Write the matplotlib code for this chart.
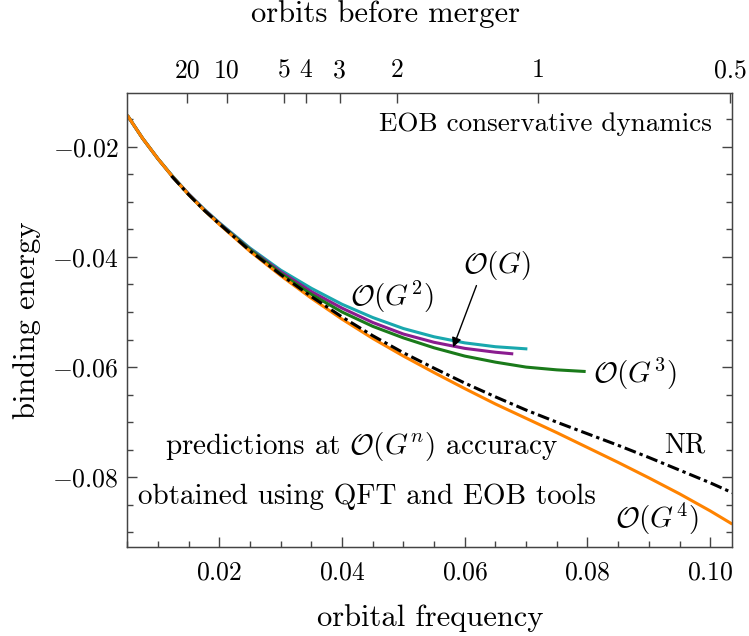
import matplotlib
matplotlib.use("Agg")
import matplotlib.pyplot as plt
from matplotlib.ticker import MultipleLocator, FuncFormatter

plt.rcParams['font.family'] = 'serif'
plt.rcParams['font.serif'] = ['cmr10']
plt.rcParams['mathtext.fontset'] = 'cm'
plt.rcParams['axes.formatter.use_mathtext'] = True

# ---- data ----
g4_x = [0.005, 0.0075, 0.01, 0.0125, 0.015, 0.0175, 0.02, 0.025, 0.03, 0.035, 0.04, 0.045, 0.05,
        0.055, 0.06, 0.065, 0.07, 0.075, 0.08, 0.085, 0.09, 0.095, 0.1, 0.1036]
g4_y = [-0.0143, -0.0185, -0.0222, -0.0256, -0.0287, -0.0315, -0.0341, -0.0390, -0.0434, -0.0475,
        -0.0513, -0.0548, -0.0580, -0.0610, -0.0639, -0.0667, -0.0693, -0.0719, -0.0746, -0.0773,
        -0.0801, -0.0830, -0.0861, -0.0885]

nr_x = [0.0122, 0.015, 0.0175, 0.02, 0.025, 0.03, 0.035, 0.04, 0.045, 0.05, 0.055, 0.06, 0.065,
        0.07, 0.075, 0.08, 0.085, 0.09, 0.095, 0.1, 0.1036]
nr_y = [-0.0253, -0.0287, -0.0315, -0.0340, -0.0389, -0.0432, -0.0472, -0.0509, -0.0543, -0.0574,
        -0.0602, -0.0629, -0.0654, -0.0678, -0.0700, -0.0721, -0.0742, -0.0764, -0.0787, -0.0810,
        -0.0828]

g2_x = [0.005, 0.0075, 0.01, 0.0125, 0.015, 0.0175, 0.02, 0.025, 0.03, 0.035, 0.04, 0.045, 0.05,
        0.055, 0.06, 0.065, 0.0702]
g2_y = [-0.0143, -0.0185, -0.0222, -0.0255, -0.0286, -0.0313, -0.0338, -0.0384, -0.0424, -0.0457,
        -0.0486, -0.0510, -0.0530, -0.0545, -0.0556, -0.0563, -0.0567]

g1_x = [0.005, 0.0075, 0.01, 0.0125, 0.015, 0.0175, 0.02, 0.025, 0.03, 0.035, 0.04, 0.045, 0.05,
        0.055, 0.06, 0.065, 0.0679]
g1_y = [-0.0143, -0.0185, -0.0222, -0.0256, -0.0286, -0.0314, -0.0339, -0.0386, -0.0427, -0.0463,
        -0.0493, -0.0519, -0.0540, -0.0555, -0.0566, -0.0573, -0.0576]

g3_x = [0.005, 0.0075, 0.01, 0.0125, 0.015, 0.0175, 0.02, 0.025, 0.03, 0.035, 0.04, 0.045, 0.05,
        0.055, 0.06, 0.065, 0.07, 0.075, 0.0797]
g3_y = [-0.0143, -0.0185, -0.0222, -0.0256, -0.0287, -0.0315, -0.0340, -0.0387, -0.0430, -0.0468,
        -0.0500, -0.0526, -0.0547, -0.0565, -0.0580, -0.0591, -0.0600, -0.0605, -0.0608]

orbit_tick_freq = [0.0148, 0.0212, 0.0305, 0.0341, 0.0396, 0.0490, 0.0719, 0.1033]
orbit_tick_labels = ['20', '10', '5', '4', '3', '2', '1', '0.5']

xlim = (0.005, 0.1036)
ylim = (-0.0926, -0.0103)

# ---- figure ----
fig = plt.figure(figsize=(7.49, 6.36), dpi=100)
ax = fig.add_axes([0.170, 0.1404, 0.8077, 0.7129])

c_g2 = '#19a8ae'
c_g1 = '#8a1c8f'
c_g3 = '#1a7a1a'
c_g4 = '#ff8300'

lw = 2.2
ax.plot(g2_x, g2_y, color=c_g2, lw=lw, solid_capstyle='butt', solid_joinstyle='round')
ax.plot(g1_x, g1_y, color=c_g1, lw=lw, solid_capstyle='butt', solid_joinstyle='round')
ax.plot(g3_x, g3_y, color=c_g3, lw=lw, solid_capstyle='butt', solid_joinstyle='round')
ax.plot(g4_x, g4_y, color=c_g4, lw=lw, solid_capstyle='butt', solid_joinstyle='round')
ax.plot(nr_x, nr_y, color='black', lw=lw, dashes=[3.9, 1.3, 1.1, 1.3])

ax.set_xlim(*xlim)
ax.set_ylim(*ylim)

spine_c = '#444444'
for s in ax.spines.values():
    s.set_color(spine_c)
    s.set_linewidth(1.0)

ax.xaxis.set_major_locator(MultipleLocator(0.02))
ax.xaxis.set_minor_locator(MultipleLocator(0.005))
ax.yaxis.set_major_locator(MultipleLocator(0.02))
ax.yaxis.set_minor_locator(MultipleLocator(0.005))
ax.xaxis.set_major_formatter(FuncFormatter(lambda v, p: f'${v:.2f}$'))
ax.yaxis.set_major_formatter(FuncFormatter(lambda v, p: f'${v:.2f}$'))
ax.tick_params(which='both', direction='in', color=spine_c, labelsize=18.5,
               right=True, top=False)
ax.tick_params(which='major', length=7, width=1.0, pad=10)
ax.tick_params(which='minor', length=4, width=1.0)
ax.tick_params(axis='y', which='major', pad=6)

ax2 = ax.twiny()
ax2.set_xlim(*xlim)
ax2.set_xticks(orbit_tick_freq)
ax2.set_xticklabels(orbit_tick_labels)
ax2.tick_params(which='major', direction='in', length=7, width=1.0, color=spine_c,
                labelsize=18.5, pad=8)
ax2.tick_params(which='minor', length=0)
for s in ax2.spines.values():
    s.set_color(spine_c)

ax.set_xlabel('orbital frequency', fontsize=22, labelpad=14)
ax.set_ylabel('binding energy', fontsize=22, labelpad=8)
ax2.set_xlabel('orbits before merger', fontsize=22, labelpad=26)
ax2.xaxis.label.set_x(0.426)

ax.text(0.966, 0.932, 'EOB conservative dynamics', transform=ax.transAxes,
        ha='right', va='center', fontsize=19.5)
ax.text(0.0481, -0.0473, r'$\mathcal{O}(G^2)$', ha='center', va='center', fontsize=21)
ax.text(0.0652, -0.0415, r'$\mathcal{O}(G)$', ha='center', va='center', fontsize=21)
ax.annotate('', xy=(0.0581, -0.0564), xytext=(0.0619, -0.0452),
            arrowprops=dict(arrowstyle='-|>', color='black', lw=1.0,
                            mutation_scale=14, shrinkA=0, shrinkB=0))
ax.text(0.0877, -0.0612, r'$\mathcal{O}(G^3)$', ha='center', va='center', fontsize=21)
ax.text(0.0958, -0.0742, 'NR', ha='center', va='center', fontsize=20)
ax.text(0.0913, -0.0875, r'$\mathcal{O}(G^4)$', ha='center', va='center', fontsize=21)
ax.text(0.388, 0.22, r'predictions at $\mathcal{O}(G^n)$ accuracy', transform=ax.transAxes,
        ha='center', va='center', fontsize=21)
ax.text(0.396, 0.11, 'obtained using QFT and EOB tools', transform=ax.transAxes,
        ha='center', va='center', fontsize=21)

fig.savefig('out.png', dpi=100)
